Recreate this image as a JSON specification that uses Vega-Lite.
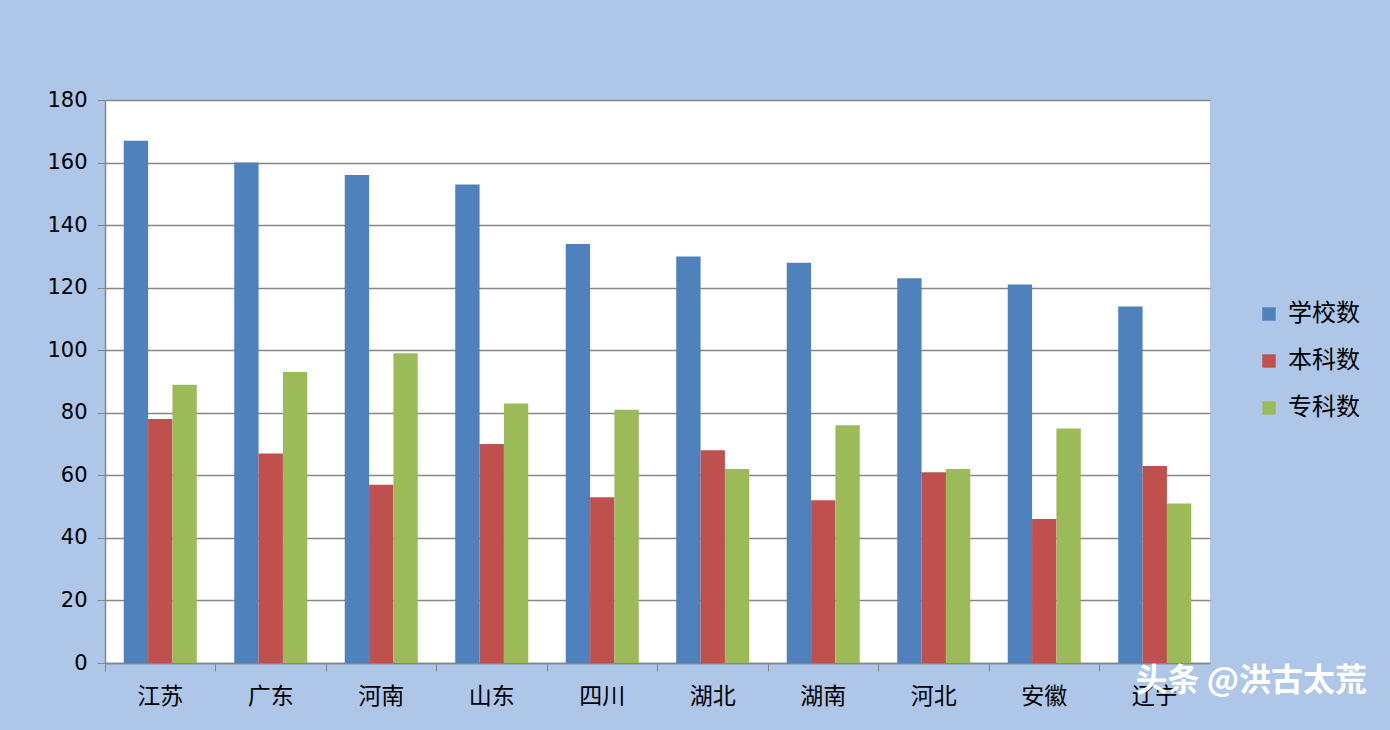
{
  "$schema": "https://vega.github.io/schema/vega-lite/v6.json",
  "width": 1105,
  "height": 563,
  "autosize": {"type": "none"},
  "padding": {"left": 105, "top": 100, "right": 180, "bottom": 67},
  "background": "#aec6e8",
  "title": {
    "text": "头条 @洪古太荒",
    "orient": "bottom",
    "anchor": "end",
    "frame": "group",
    "dx": 157,
    "offset": -42,
    "font": "Noto Sans CJK SC",
    "fontSize": 32,
    "fontWeight": "bold",
    "color": "white"
  },
  "data": {
    "values": [
      {"省份": "江苏", "类别": "学校数", "数量": 167},
      {"省份": "江苏", "类别": "本科数", "数量": 78},
      {"省份": "江苏", "类别": "专科数", "数量": 89},
      {"省份": "广东", "类别": "学校数", "数量": 160},
      {"省份": "广东", "类别": "本科数", "数量": 67},
      {"省份": "广东", "类别": "专科数", "数量": 93},
      {"省份": "河南", "类别": "学校数", "数量": 156},
      {"省份": "河南", "类别": "本科数", "数量": 57},
      {"省份": "河南", "类别": "专科数", "数量": 99},
      {"省份": "山东", "类别": "学校数", "数量": 153},
      {"省份": "山东", "类别": "本科数", "数量": 70},
      {"省份": "山东", "类别": "专科数", "数量": 83},
      {"省份": "四川", "类别": "学校数", "数量": 134},
      {"省份": "四川", "类别": "本科数", "数量": 53},
      {"省份": "四川", "类别": "专科数", "数量": 81},
      {"省份": "湖北", "类别": "学校数", "数量": 130},
      {"省份": "湖北", "类别": "本科数", "数量": 68},
      {"省份": "湖北", "类别": "专科数", "数量": 62},
      {"省份": "湖南", "类别": "学校数", "数量": 128},
      {"省份": "湖南", "类别": "本科数", "数量": 52},
      {"省份": "湖南", "类别": "专科数", "数量": 76},
      {"省份": "河北", "类别": "学校数", "数量": 123},
      {"省份": "河北", "类别": "本科数", "数量": 61},
      {"省份": "河北", "类别": "专科数", "数量": 62},
      {"省份": "安徽", "类别": "学校数", "数量": 121},
      {"省份": "安徽", "类别": "本科数", "数量": 46},
      {"省份": "安徽", "类别": "专科数", "数量": 75},
      {"省份": "辽宁", "类别": "学校数", "数量": 114},
      {"省份": "辽宁", "类别": "本科数", "数量": 63},
      {"省份": "辽宁", "类别": "专科数", "数量": 51}
    ]
  },
  "mark": {"type": "bar"},
  "encoding": {
    "x": {
      "field": "省份",
      "type": "nominal",
      "sort": null,
      "scale": {"paddingInner": 0, "paddingOuter": 0},
      "axis": {
        "title": null,
        "labelAngle": 0,
        "bandPosition": 0,
        "tickSize": 8,
        "tickColor": "#868686",
        "domainColor": "#868686",
        "domainWidth": 1.5,
        "labelPadding": 14,
        "labelFont": "Noto Sans CJK SC",
        "labelFontSize": 23,
        "labelColor": "black",
        "grid": false
      }
    },
    "xOffset": {
      "field": "类别",
      "sort": ["学校数", "本科数", "专科数"],
      "scale": {"paddingInner": 0, "paddingOuter": 0.77}
    },
    "y": {
      "field": "数量",
      "type": "quantitative",
      "scale": {"domain": [0, 180], "nice": false},
      "axis": {
        "title": null,
        "values": [0, 20, 40, 60, 80, 100, 120, 140, 160, 180],
        "tickSize": 8,
        "tickColor": "#868686",
        "domainColor": "#868686",
        "domainWidth": 1.5,
        "gridColor": "#868686",
        "gridWidth": 1.5,
        "labelPadding": 10,
        "labelFont": "DejaVu Sans",
        "labelFontSize": 21,
        "labelColor": "black"
      }
    },
    "color": {
      "field": "类别",
      "type": "nominal",
      "sort": ["学校数", "本科数", "专科数"],
      "scale": {"range": ["#4f81bd", "#c0504d", "#9bbb59"]},
      "legend": {
        "title": null,
        "orient": "none",
        "legendX": 1152,
        "legendY": 202,
        "symbolType": "square",
        "symbolSize": 180,
        "symbolStrokeWidth": 0,
        "symbolOpacity": 1,
        "labelFont": "Noto Sans CJK SC",
        "labelFontSize": 24,
        "labelColor": "black",
        "labelOffset": 7,
        "rowPadding": 23
      }
    }
  },
  "config": {
    "view": {"fill": "white", "stroke": null}
  }
}
